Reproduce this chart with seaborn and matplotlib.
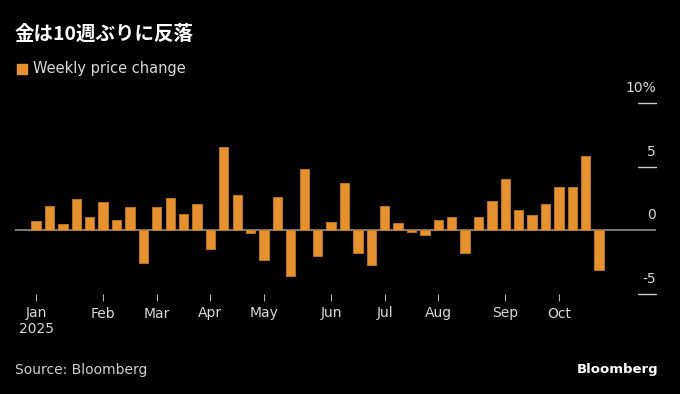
import matplotlib
matplotlib.use("Agg")
import matplotlib.pyplot as plt
import matplotlib.transforms as mtransforms
from matplotlib.patches import Rectangle
import pandas as pd
import seaborn as sns

# weekly gold price change (%), weeks ending Friday
weeks = pd.date_range("2025-01-03", periods=43, freq="W-FRI")
changes = [
    0.75, 1.9, 0.53, 2.5, 1.04, 2.27, 0.8, 1.87, -2.6, 1.83,
    2.58, 1.3, 2.1, -1.46, 6.57, 2.77, -0.17, -2.35, 2.6, -3.58,
    4.82, -1.98, 0.67, 3.7, -1.8, -2.74, 1.93, 0.57, -0.12, -0.33,
    0.83, 1.04, -1.77, 1.09, 2.3, 4.03, 1.61, 1.2, 2.06, 3.4,
    3.4, 5.84, -3.13,
]
y_ticks = [10, 5, 0, -5]
y_labels = ["10%", "5", "0", "-5"]
title = "金は10週ぶりに反落"
legend_label = "Weekly price change"
source = "Source: Bloomberg"

bar_color = "#E5922D"
bg = "#000000"

sns.set_theme(style="white")
plt.rcParams["font.family"] = ["DejaVu Sans"]

df = pd.DataFrame({"week": weeks.strftime("%Y-%m-%d"), "change": changes})

fig = plt.figure(figsize=(6.8, 3.94), dpi=100, facecolor=bg)
W, H = 680, 394
ax = fig.add_axes([15 / W, (H - 294) / H, (656 - 15) / W, (294 - 103.3) / H])
ax.set_facecolor(bg)

sns.barplot(data=df, x="week", y="change", color=bar_color, saturation=1,
            width=0.7, edgecolor="#C97A20", linewidth=0.6, ax=ax, zorder=2)

ax.set_xlim(-1.58, 46.25)
ax.set_ylim(-5, 10)
for s in ax.spines.values():
    s.set_visible(False)
ax.set_xlabel("")
ax.set_ylabel("")

# x ticks at first week of each month
month_idx = []
month_lbl = []
for i, d in enumerate(weeks):
    if i == 0 or d.month != weeks[i - 1].month:
        month_idx.append(i)
        month_lbl.append(d.strftime("%b") + ("\n2025" if i == 0 else ""))
ax.set_xticks(month_idx)
ax.set_xticklabels(month_lbl, color="#d9d9d9", fontsize=10, linespacing=1.15)
ax.tick_params(axis="x", which="major", bottom=True, length=5, width=0.7,
               color="#bbbbbb", pad=4, direction="out")
ax.set_yticks([])

# zero line and right-side stubs
ax.axhline(0, color="#9a9a9a", linewidth=1.1, zorder=1)
ytr = ax.get_yaxis_transform()
for v, lab in zip(y_ticks, y_labels):
    if v != 0:
        ax.plot([0.972, 1.0], [v, v], transform=ytr, color="#cccccc",
                linewidth=1, clip_on=False)
    tr = mtransforms.offset_copy(ytr, fig=fig, x=0, y=11, units="points")
    ax.text(1.0, v, lab, transform=tr, ha="right", va="center",
            color="#d9d9d9", fontsize=10)

# title and legend
fig.text(15 / W, 1 - 34 / H, title, color="white", fontsize=14, fontweight="bold",
         family=["Noto Sans CJK JP", "DejaVu Sans"], va="center", ha="left")
fig.patches.append(Rectangle((17 / W, 1 - 74 / H), 10 / W, 10 / H,
                             transform=fig.transFigure, color=bar_color))
fig.text(33 / W, 1 - 69 / H, legend_label, color="#d9d9d9", fontsize=10.5,
         va="center", ha="left")

# footer
fig.text(15 / W, 1 - 370 / H, source, color="#cfcfcf", fontsize=10,
         va="center", ha="left")
fig.text(658 / W, 1 - 370 / H, "Bloomberg", color="white", fontsize=9.5,
         fontweight="bold", va="center", ha="right")

fig.savefig("out.png", dpi=100, facecolor=bg)
